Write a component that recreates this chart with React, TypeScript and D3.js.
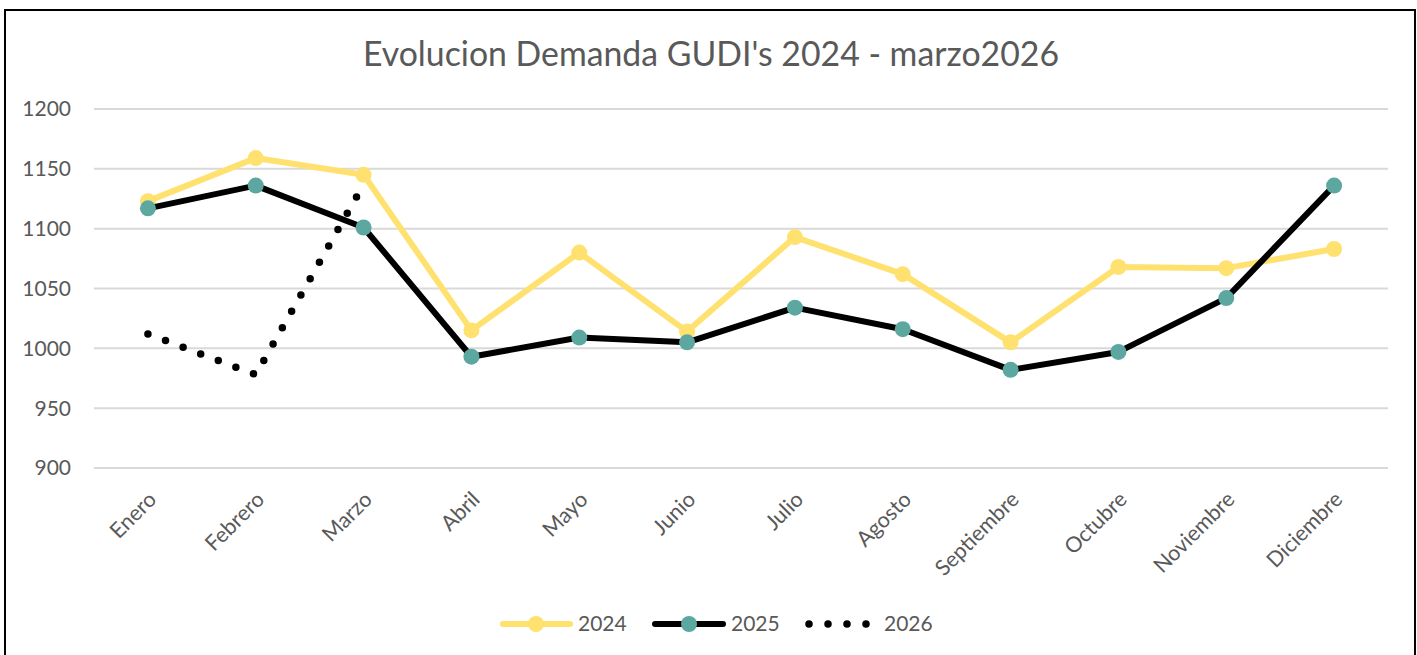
import React from "react";
import * as d3 from "d3";

const months = ["Enero","Febrero","Marzo","Abril","Mayo","Junio","Julio","Agosto","Septiembre","Octubre","Noviembre","Diciembre"];
const values2024 = [1123,1159,1145,1015,1080,1014,1093,1062,1005,1068,1067,1083];
const values2025 = [1117,1136,1101,993,1009,1005,1034,1016,982,997,1042,1136];
const values2026 = [1012,978,1137];
const yTicks = [900,950,1000,1050,1100,1150,1200];
const seriesNames = ["2024","2025","2026"];

const W = 1417, H = 655;
const YELLOW = "#FFE170";
const TEAL = "#5CA8A0";
const TEXT = "#595959";
const FONT = "Lato, 'Liberation Sans', sans-serif";

export default function App() {
  const x = d3.scaleBand<string>().domain(months).range([94, 1388]);
  const cx = (m: string) => (x(m) as number) + x.bandwidth() / 2;
  const y = d3.scaleLinear().domain([900, 1200]).range([468, 109]);
  const line = d3.line<number>().x((_, i) => cx(months[i])).y(d => y(d));

  return (
    <svg width={W} height={H} style={{ position: "absolute", left: 0, top: 0, display: "block" }}>
      <rect x={0} y={0} width={W} height={H} fill="#fff" />
      <rect x={5} y={10} width={1410} height={700} fill="#fff" stroke="#000" strokeWidth={2} />
      <text x={711} y={66} textAnchor="middle" fontFamily={FONT} fontSize={33.8} fill={TEXT}>
        Evolucion Demanda GUDI's 2024 - marzo2026
      </text>
      {yTicks.map(t => (
        <g key={t}>
          <line x1={94} x2={1388} y1={y(t)} y2={y(t)} stroke="#D9D9D9" strokeWidth={2} />
          <text x={71} y={y(t)} dy="0.35em" textAnchor="end" fontFamily={FONT} fontSize={21} fill={TEXT}>{t}</text>
        </g>
      ))}
      {months.map(m => (
        <text key={m} transform={`translate(${cx(m) - 1},${490}) rotate(-45)`} dy="0.71em" textAnchor="end"
          fontFamily={FONT} fontSize={21.5} fill={TEXT}>{m}</text>
      ))}
      <path d={line(values2024) || ""} fill="none" stroke={YELLOW} strokeWidth={6} strokeLinejoin="round" />
      {values2024.map((v, i) => <circle key={"a" + i} cx={cx(months[i])} cy={y(v)} r={8} fill={YELLOW} />)}
      <path d={line(values2025) || ""} fill="none" stroke="#000" strokeWidth={6} strokeLinejoin="round" />
      {values2025.map((v, i) => <circle key={"b" + i} cx={cx(months[i])} cy={y(v)} r={8} fill={TEAL} />)}
      <path d={line(values2026) || ""} fill="none" stroke="#000" strokeWidth={7.5} strokeLinecap="round" strokeDasharray="0 18.8" />
      {/* legend */}
      <g fontFamily={FONT} fontSize={21} fill={TEXT}>
        <line x1={503} x2={570} y1={624} y2={624} stroke={YELLOW} strokeWidth={6} strokeLinecap="round" />
        <circle cx={536} cy={624} r={8} fill={YELLOW} />
        <text x={578} y={624} dy="0.35em">{seriesNames[0]}</text>
        <line x1={655} x2={723} y1={624} y2={624} stroke="#000" strokeWidth={6} strokeLinecap="round" />
        <circle cx={689} cy={624} r={8} fill={TEAL} />
        <text x={731} y={624} dy="0.35em">{seriesNames[1]}</text>
        <line x1={809} x2={868} y1={624} y2={624} stroke="#000" strokeWidth={7.5} strokeLinecap="round" strokeDasharray="0 19" />
        <text x={884} y={624} dy="0.35em">{seriesNames[2]}</text>
      </g>
    </svg>
  );
}
